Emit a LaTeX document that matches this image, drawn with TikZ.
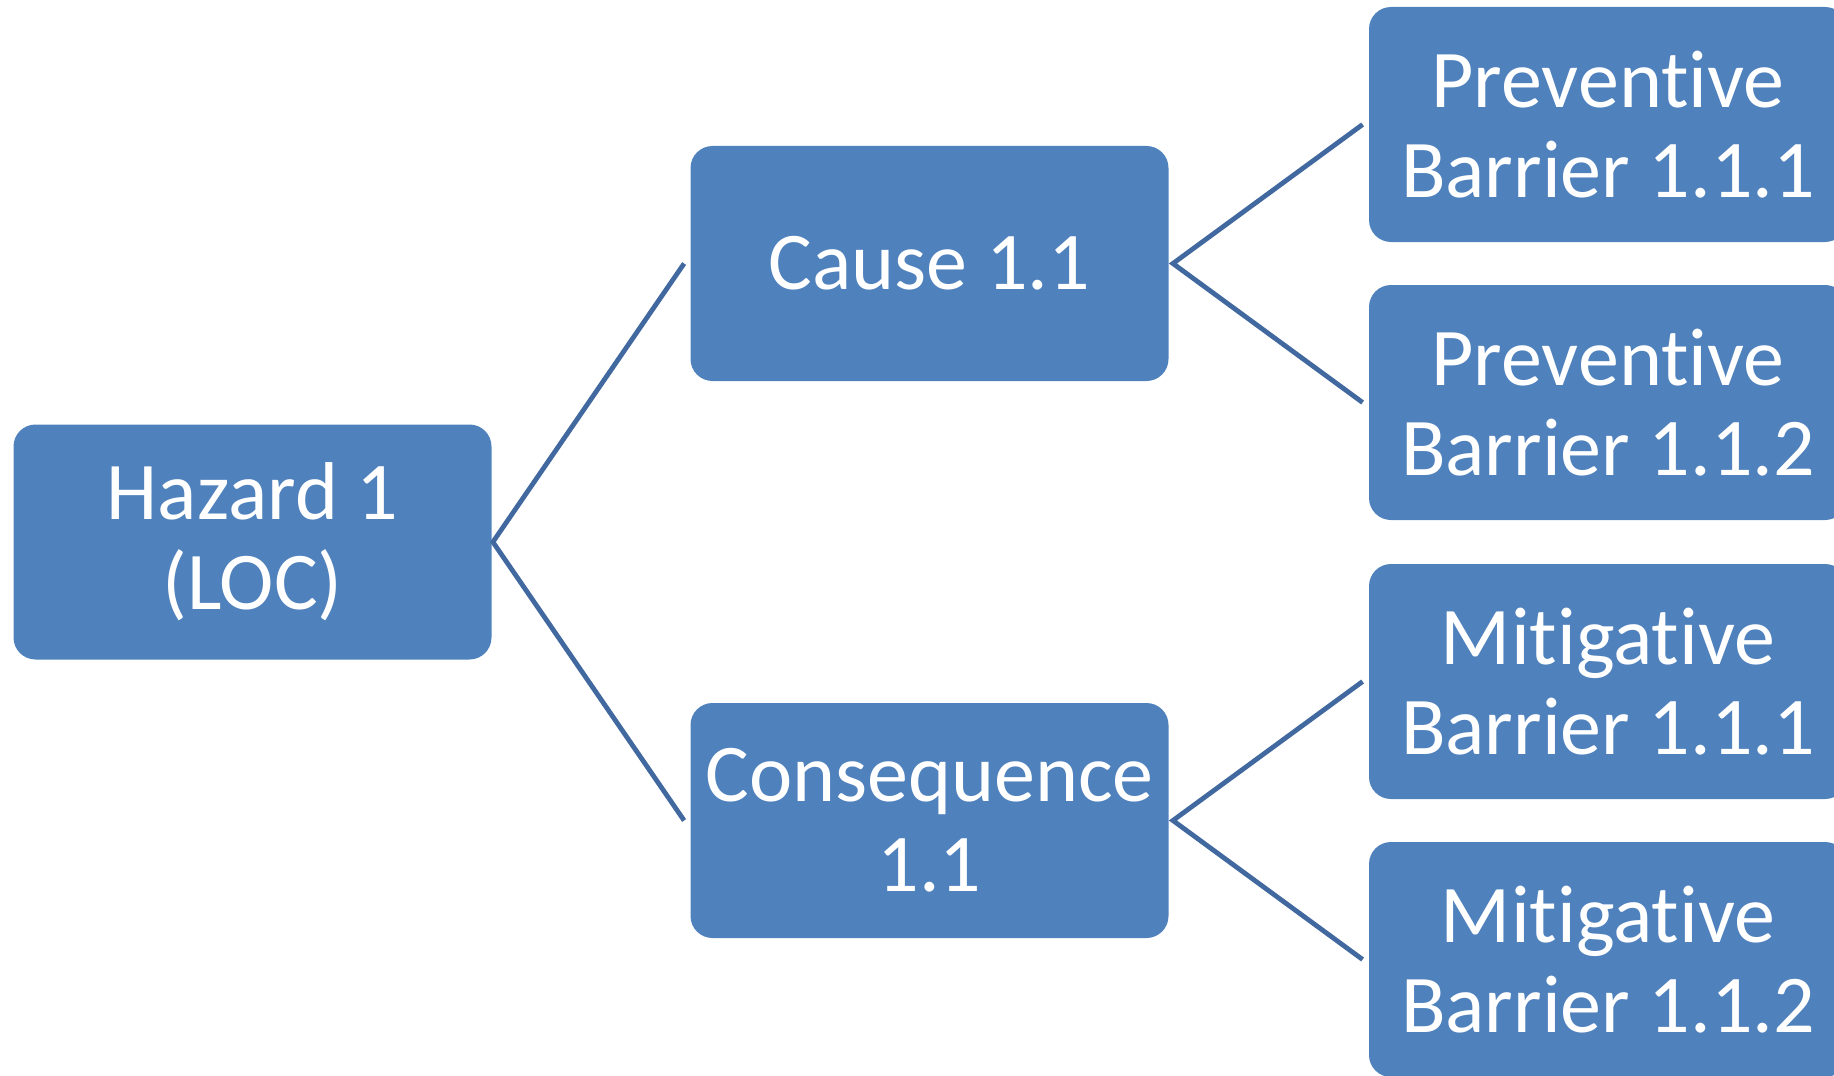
\documentclass[tikz,border=0pt]{standalone}
\usepackage{fontspec}
\setmainfont{Carlito}[Ligatures={NoCommon}]
\begin{document}
\begin{tikzpicture}[x=0.5pt,y=-0.5pt,
  box/.style={rectangle, rounded corners=11pt, fill=boxblue, text=white,
    minimum width=239pt, minimum height=117.5pt, inner sep=0pt, align=center,
    font=\fontsize{41}{45}\selectfont},
  link/.style={draw=lineblue, line width=2.4pt}]
\definecolor{boxblue}{HTML}{4F81BD}
\definecolor{lineblue}{HTML}{41699F}
\useasboundingbox (0,0) rectangle (1834,1075);
\clip (0,0) rectangle (1834,1075);
% tree nodes
\node[box] (hz) at (252.5,542) {Hazard 1\\(LOC)};
\node[box] (cause) at (929.5,263.5) {Cause 1.1};
\node[box] (cons) at (929.5,820.5) {Consequence\\1.1};
\node[box] (pb1) at (1608,124.5) {Preventive\\Barrier 1.1.1};
\node[box] (pb2) at (1608,402.5) {Preventive\\Barrier 1.1.2};
\node[box] (mb1) at (1608,681.5) {Mitigative\\Barrier 1.1.1};
\node[box] (mb2) at (1608,959.5) {Mitigative\\Barrier 1.1.2};
% branching connectors
\coordinate (hzj) at ([xshift=0.5pt]hz.east);
\coordinate (causej) at ([xshift=2pt]cause.east);
\coordinate (consj) at ([xshift=2pt]cons.east);
\draw[link] ([xshift=-3pt]cause.west) -- (hzj) -- ([xshift=-3pt]cons.west);
\draw[link] ([xshift=-3pt]pb1.west) -- (causej) -- ([xshift=-3pt]pb2.west);
\draw[link] ([xshift=-3pt]mb1.west) -- (consj) -- ([xshift=-3pt]mb2.west);
\end{tikzpicture}
\end{document}
